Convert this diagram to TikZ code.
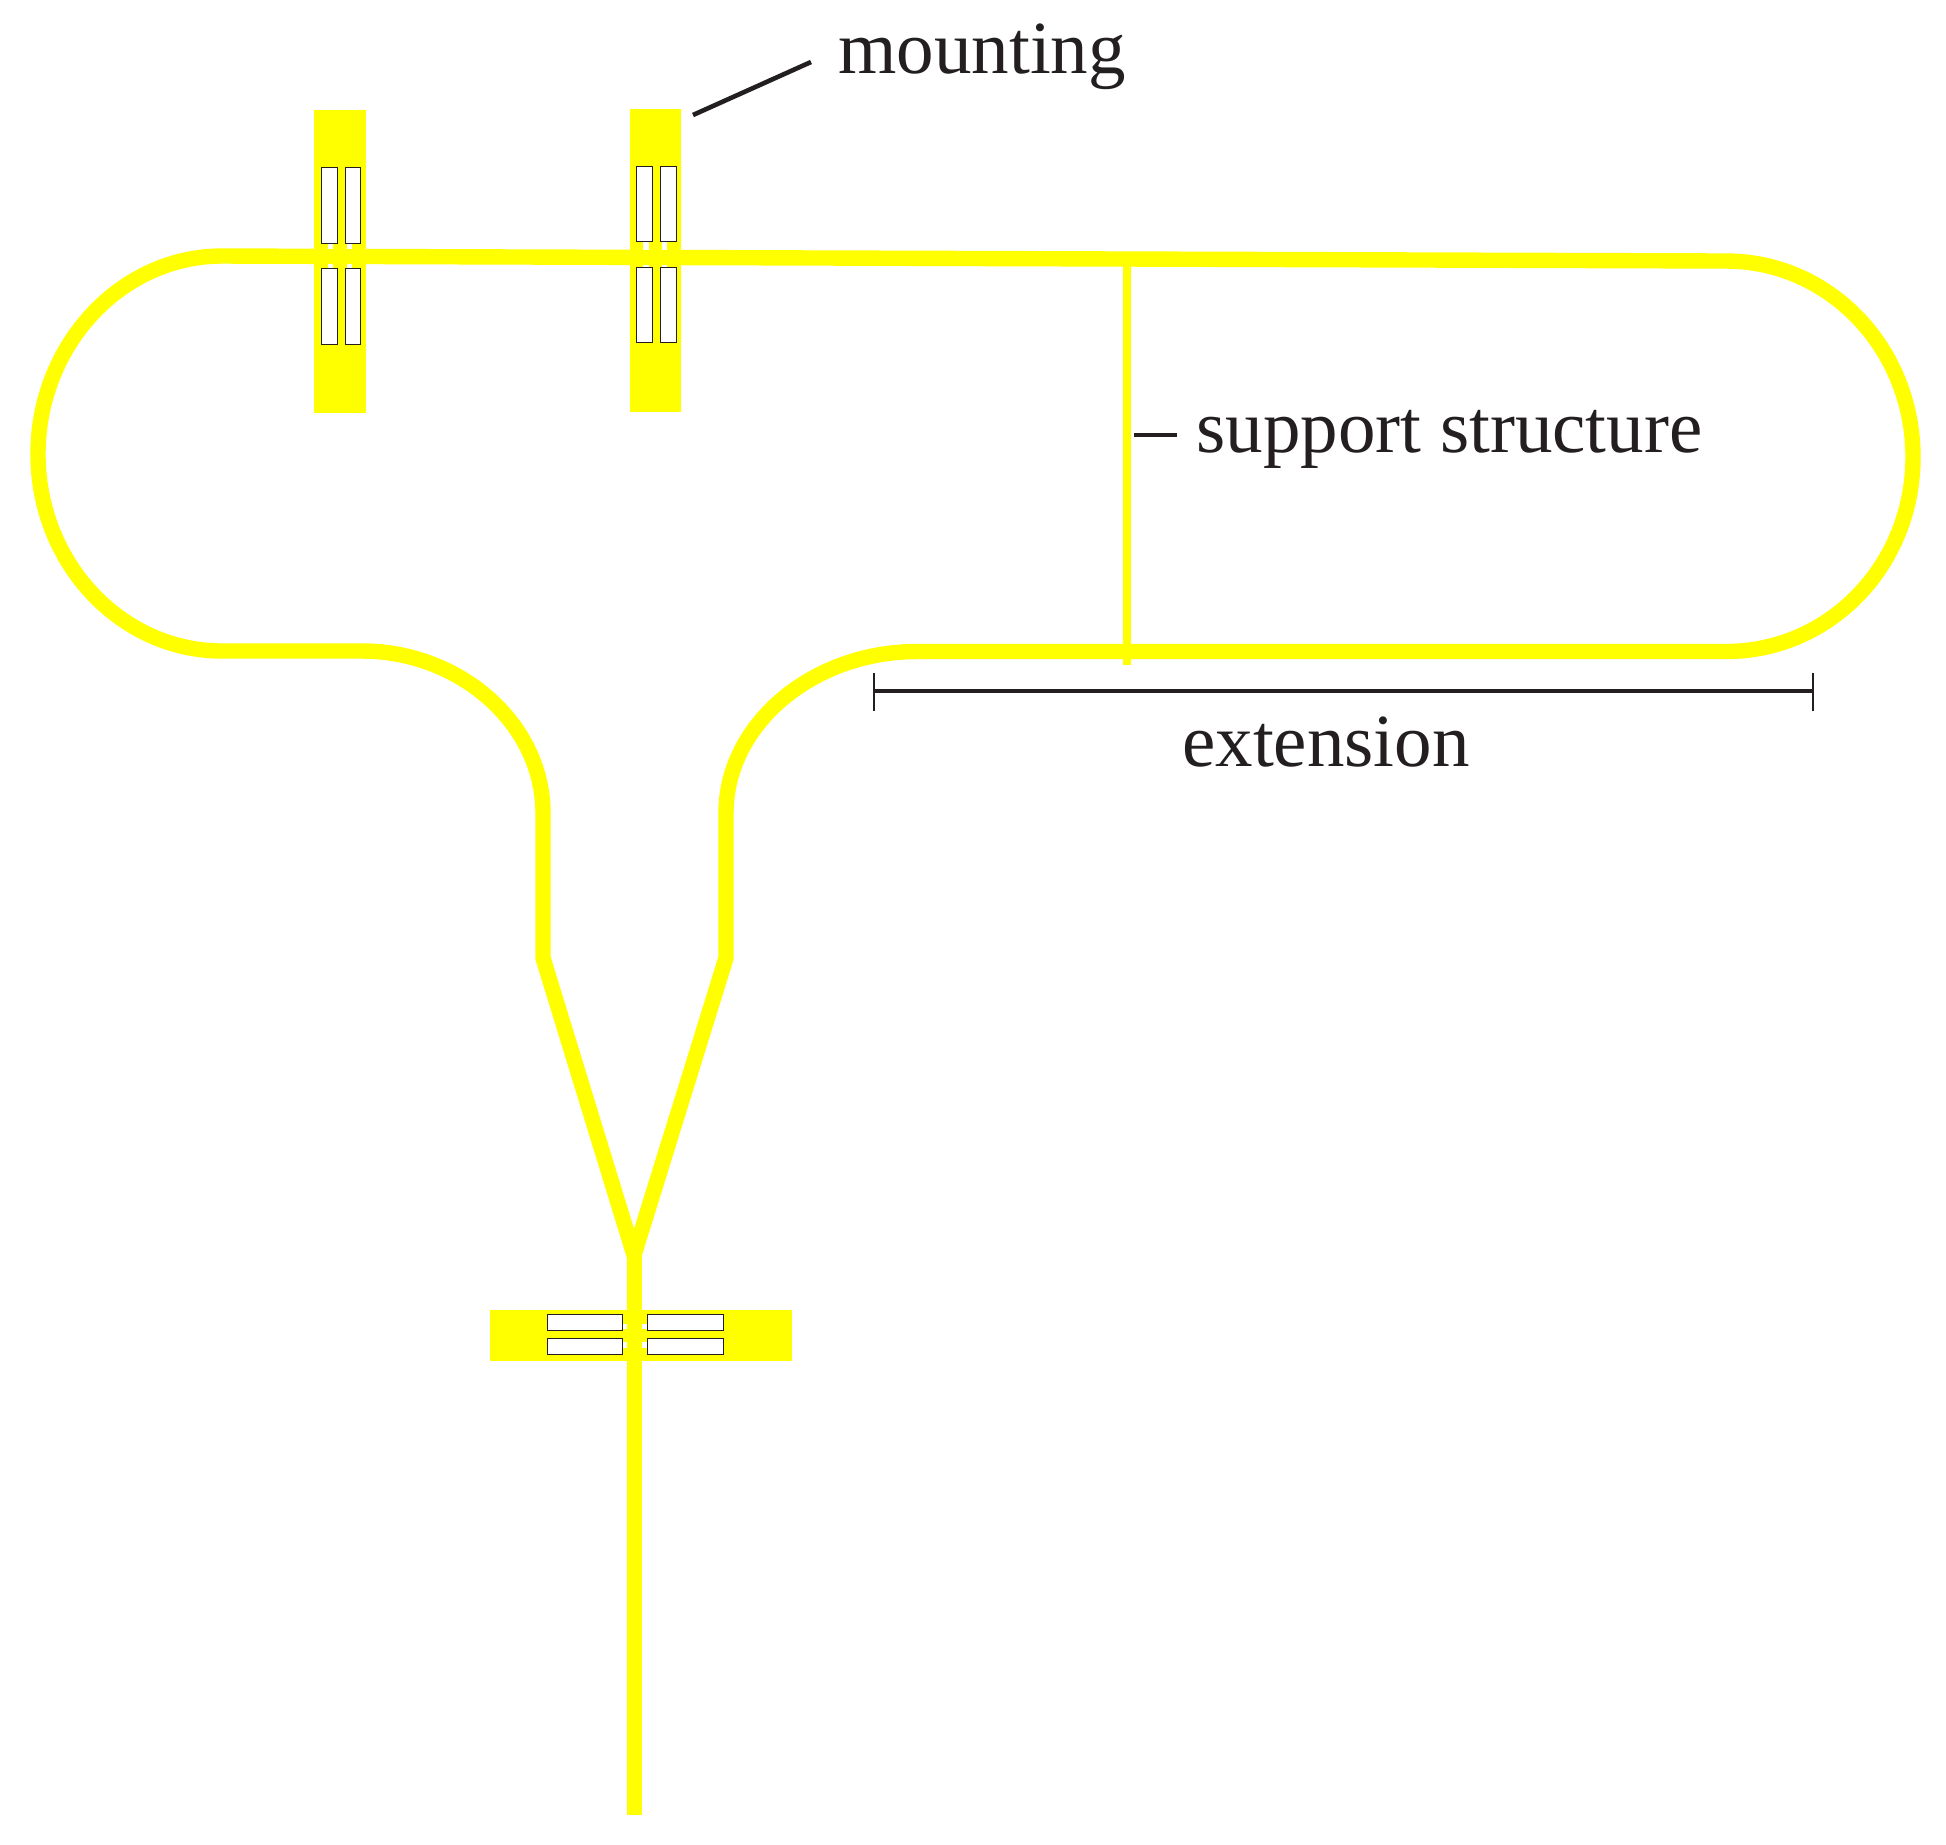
\documentclass[tikz,border=0pt]{standalone}
\usepackage{fontspec}
\setmainfont{Liberation Serif}
\definecolor{ink}{HTML}{231F20}
\definecolor{beam}{HTML}{FFFF00}
\tikzset{
  x=0.5pt,y=-0.5pt,
  loop/.style={draw=beam,line width=7.7pt,line join=round},
  stem/.style={draw=beam,line width=7.5pt},
  strut/.style={draw=beam,line width=3.8pt},
  pad/.style={fill=beam},
  slot/.style={draw=ink,line width=0.6pt,fill=white},
  notch/.style={fill=white},
  leader/.style={draw=ink,line width=2.3pt},
  tick/.style={draw=ink,line width=0.7pt},
  label/.style={text=ink,font=\fontsize{37.5}{45}\selectfont,inner sep=0pt},
}
\begin{document}
\begin{tikzpicture}
\useasboundingbox (0,0) rectangle (1946,1844);
% mounting pads
\fill[pad] (314,110) rectangle (366,413);
\fill[pad] (630,109) rectangle (681,412);
\fill[pad] (490,1310) rectangle (792,1361);
% beam loop
\draw[loop] (634,1255) -- (543,958) -- (543,813)
  .. controls (543,724) and (460,651) .. (362,651) -- (222,651)
  .. controls (121,651) and (38,563) .. (38,454)
  .. controls (38,345) and (121,256) .. (222,256)
  -- (1726,261)
  .. controls (1830,261) and (1913,349) .. (1913,457)
  .. controls (1913,565) and (1830,651.5) .. (1726,651.5)
  -- (917,651.5)
  .. controls (813,651.5) and (726,724) .. (726,813)
  -- (726,958) -- (634,1255);
\draw[stem] (634.5,1250) -- (634.5,1815);
\draw[strut] (1127,259) -- (1127,665);
% notches next to the beam, mount 1
\fill[notch] (328,244) rectangle (333,249);
\fill[notch] (347,244) rectangle (352,249);
\fill[notch] (328,264) rectangle (333,268);
\fill[notch] (347,264) rectangle (352,268);
% notches, mount 2
\fill[notch] (643,241) rectangle (649,249.5);
\fill[notch] (662,241) rectangle (667,249.5);
\fill[notch] (643,265) rectangle (649,267);
\fill[notch] (662,265) rectangle (667,267);
% notches, lower mount
\fill[notch] (622,1324) rectangle (627,1329);
\fill[notch] (622,1342) rectangle (627,1348);
\fill[notch] (642,1324) rectangle (647,1329);
\fill[notch] (642,1342) rectangle (647,1348);
% slots
\draw[slot] (321.3,167.3) rectangle (337.7,243.3);
\draw[slot] (345.3,167.3) rectangle (360.7,243.3);
\draw[slot] (321.3,268.3) rectangle (337.7,344.3);
\draw[slot] (345.3,268.3) rectangle (360.7,344.3);
\draw[slot] (636.3,166.3) rectangle (652.3,241.3);
\draw[slot] (660.3,166.3) rectangle (676.7,241.3);
\draw[slot] (636.3,267.3) rectangle (652.3,342.3);
\draw[slot] (660.3,267.3) rectangle (676.7,342.3);
\draw[slot] (547.3,1314.3) rectangle (622.7,1330.3);
\draw[slot] (647.3,1314.3) rectangle (723.3,1330.3);
\draw[slot] (547.3,1338.3) rectangle (622.7,1354.3);
\draw[slot] (647.3,1338.3) rectangle (723.3,1354.3);
% labels
\node[label,anchor=base west] (mounting) at (838,73) {mounting};
\node[label,anchor=base west] (support) at (1196,452) {support structure};
\node[label,anchor=base] (extension) at (1326,766) {extension};
% leaders
\coordinate (mountA) at (693,115);
\coordinate (mountB) at (811,62);
\coordinate (supA) at (1134,435);
\coordinate (supB) at (1177,435);
\coordinate (extA) at (874,691);
\coordinate (extB) at (1813,691);
\draw[leader] (mountA) -- (mountB);
\draw[leader] (supA) -- (supB);
\draw[leader] (extA) -- (extB);
\draw[tick] ([yshift=9pt]extA) -- ([yshift=-10pt]extA);
\draw[tick] ([yshift=9pt]extB) -- ([yshift=-10pt]extB);
\end{tikzpicture}
\end{document}
